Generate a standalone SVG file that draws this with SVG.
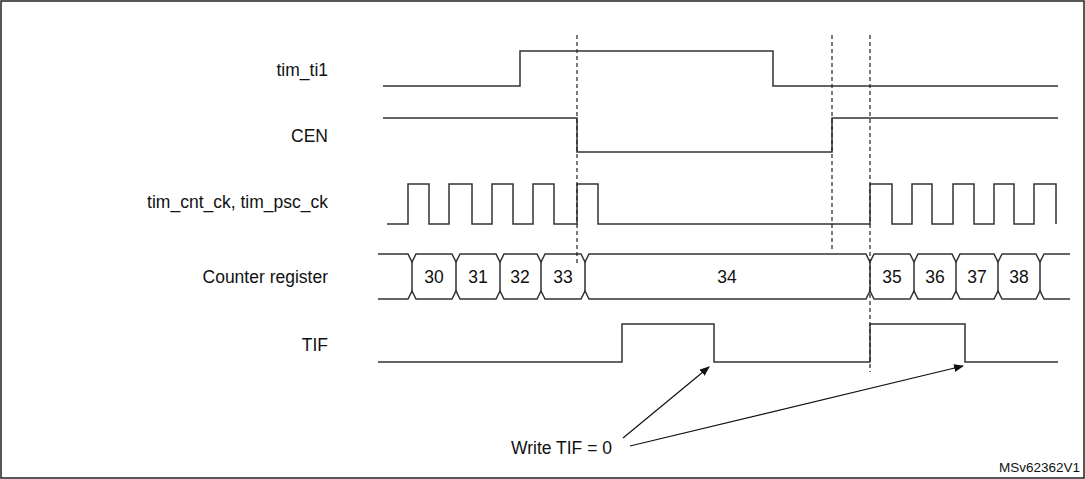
<svg xmlns="http://www.w3.org/2000/svg" width="1085" height="479" viewBox="0 0 1085 479">
<style>
.w{fill:none;stroke:#333;stroke-width:1.5}
.d{fill:none;stroke:#222;stroke-width:1.2;stroke-dasharray:4,3}
text{font-family:"Liberation Sans",Arial,sans-serif;font-size:17.5px;fill:#111}
.l{text-anchor:end}
</style>
<defs><marker id="a" markerWidth="10" markerHeight="8" refX="9" refY="4" orient="auto" markerUnits="userSpaceOnUse"><path d="M0,0 L10,4 L0,8z" fill="#111"/></marker></defs>
<rect x="1" y="1" width="1083" height="477" fill="#fff" stroke="#222" stroke-width="1.5"/>
<g id="labels">
<text class="l" x="328" y="76">tim_ti1</text>
<text class="l" x="328" y="142">CEN</text>
<text class="l" x="328" y="208">tim_cnt_ck, tim_psc_ck</text>
<text class="l" x="328" y="283">Counter register</text>
<text class="l" x="328" y="351">TIF</text>
</g>
<g id="tim_ti1"><path class="w" d="M383,86 H520 V51 H773 V86 H1058"/></g>
<g id="cen"><path class="w" d="M383,118 H577 V152 H832 V118 H1058"/></g>
<g id="clk"><path class="w" d="M387,224 H408 V184 H429 V224 H449 V184 H472 V224 H492 V184 H513 V224 H533 V184 H554 V224 H577 V184 H598 V224 H870 V184 H892 V224 H912 V184 H932 V224 H953 V184 H974 V224 H994 V184 H1014 V224 H1034 V184 H1056 V224"/></g>
<g id="counter">
<path class="w" d="M378,254 H408 L412,262 L416,254 H452 L456,262 L460,254 H496 L500,262 L504,254 H537 L541,262 L545,254 H581 L585,262 L589,254 H866 L870,262 L874,254 H910 L914,262 L918,254 H952 L956,262 L960,254 H994 L998,262 L1002,254 H1036 L1040,262 L1044,254 H1070"/>
<path class="w" d="M378,299 H408 L412,291 L416,299 H452 L456,291 L460,299 H496 L500,291 L504,299 H537 L541,291 L545,299 H581 L585,291 L589,299 H866 L870,291 L874,299 H910 L914,291 L918,299 H952 L956,291 L960,299 H994 L998,291 L1002,299 H1036 L1040,291 L1044,299 H1070"/>
<path class="w" d="M412,262 V291 M456,262 V291 M500,262 V291 M541,262 V291 M585,262 V291 M870,262 V291 M914,262 V291 M956,262 V291 M998,262 V291 M1040,262 V291"/>
<text x="434" y="283" text-anchor="middle">30</text>
<text x="478" y="283" text-anchor="middle">31</text>
<text x="520" y="283" text-anchor="middle">32</text>
<text x="563" y="283" text-anchor="middle">33</text>
<text x="727" y="283" text-anchor="middle">34</text>
<text x="892" y="283" text-anchor="middle">35</text>
<text x="935" y="283" text-anchor="middle">36</text>
<text x="977" y="283" text-anchor="middle">37</text>
<text x="1019" y="283" text-anchor="middle">38</text>
</g>
<g id="tif"><path class="w" d="M378,362 H622 V324 H714 V362 H870 V324 H965 V362 H1058"/></g>
<g id="connectors">
<path class="d" d="M577,35 V265 M832,35 V250 M870,35 V372"/>
<path fill="none" stroke="#111" stroke-width="1.2" marker-end="url(#a)" d="M623,438 L709,367"/>
<path fill="none" stroke="#111" stroke-width="1.2" marker-end="url(#a)" d="M630,446 L963,366"/>
</g>
<text x="612" y="454" text-anchor="end">Write TIF = 0</text>
<text x="1080" y="472" text-anchor="end" style="font-size:13.5px">MSv62362V1</text>
</svg>
